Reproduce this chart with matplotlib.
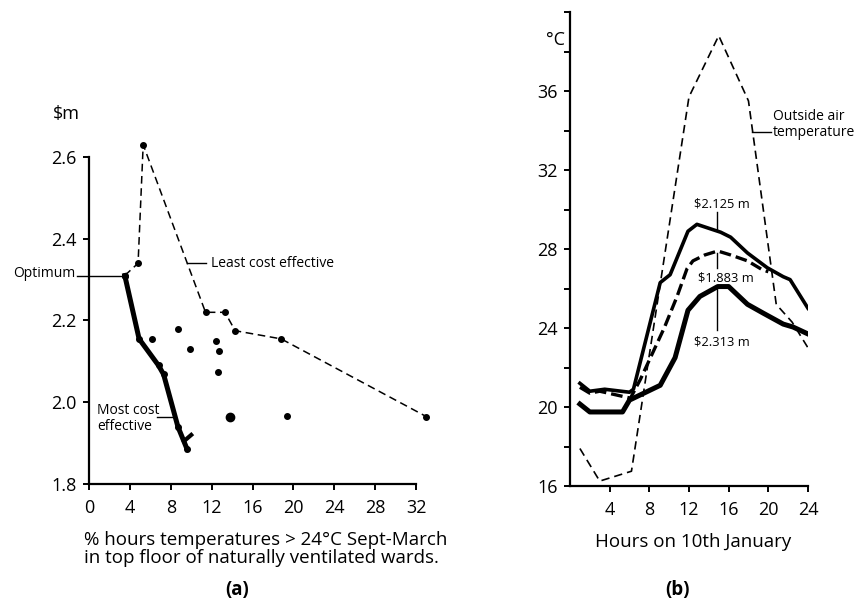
import numpy as np
import matplotlib.pyplot as plt
from matplotlib.ticker import FixedLocator

plt.rcParams['font.family'] = ['Open Sans', 'DejaVu Sans']

# panel (a): cost ($m) vs % hours above 24C
least_x = [3.5, 4.8, 5.3, 11.4, 13.3, 14.3, 18.8, 33.0]
least_y = [2.31, 2.34, 2.63, 2.22, 2.22, 2.175, 2.155, 1.965]
most_x = [3.5, 4.9, 6.8, 7.3, 8.7, 9.6]
most_y = [2.31, 2.155, 2.09, 2.068, 1.94, 1.885]
hook_x = [9.3, 10.0]
hook_y = [1.905, 1.92]
other_x = [6.2, 8.7, 9.9, 12.4, 12.7, 12.6, 19.4]
other_y = [2.155, 2.18, 2.13, 2.15, 2.125, 2.075, 1.966]
blob_x = [13.8]
blob_y = [1.963]

# panel (b): temperatures on 10th January
out_h = [1, 3, 6.2, 12, 15, 18, 20.8, 22.4, 24]
out_t = [17.9, 16.25, 16.75, 35.7, 38.8, 35.5, 25.2, 24.3, 23.0]
c2125_h = [1, 2, 3.5, 6, 6.4, 9.1, 10.1, 11.9, 12.8, 15.2, 16.2, 17.9, 19.9, 21.5, 22.2, 24]
c2125_t = [21.2, 20.8, 20.9, 20.75, 20.9, 26.3, 26.7, 28.9, 29.25, 28.85, 28.6, 27.8, 27.05, 26.6, 26.45, 25.0]
c1883_h = [1, 2, 3, 6.1, 7.1, 9.5, 10.8, 11.8, 12.4, 13.6, 14.9, 16.2, 17.9, 19.4, 20.0]
c1883_t = [21.0, 20.7, 20.8, 20.45, 21.4, 24.0, 25.6, 27.0, 27.4, 27.7, 27.9, 27.7, 27.4, 26.95, 26.85]
c2313_h = [1, 2, 5.3, 6, 9.1, 10.6, 11.9, 13.1, 14.9, 16.0, 17.9, 19.5, 21.5, 22.5, 24]
c2313_t = [20.15, 19.75, 19.75, 20.35, 21.1, 22.5, 24.9, 25.6, 26.1, 26.1, 25.2, 24.75, 24.2, 24.05, 23.7]

fig = plt.figure(figsize=(8.61, 6.01), dpi=100)
ax1 = fig.add_axes([0.1034, 0.1947, 0.3798, 0.5441])
ax2 = fig.add_axes([0.662, 0.1913, 0.2764, 0.7887])

for ax in (ax1, ax2):
    ax.spines['top'].set_visible(False)
    ax.spines['right'].set_visible(False)
    ax.spines['left'].set_linewidth(1.6)
    ax.spines['bottom'].set_linewidth(1.6)
    ax.tick_params(direction='out', length=4, width=1.4, labelsize=13, pad=5)
    ax.tick_params(which='minor', direction='out', length=4, width=1.4)
    ax.tick_params(axis='x', pad=7)

# ---- (a)
ax1.plot(least_x, least_y, color='k', lw=1.1, ls=(0, (5, 3)), marker='o', ms=4, clip_on=False)
ax1.plot(most_x, most_y, color='k', lw=3.6, marker='o', ms=4, clip_on=False)
ax1.plot(hook_x, hook_y, color='k', lw=3.0, clip_on=False)
ax1.plot(other_x, other_y, 'ko', ms=4, ls='none', clip_on=False)
ax1.plot(blob_x, blob_y, 'ko', ms=6, ls='none', clip_on=False)
ax1.set_xlim(0, 32)
ax1.set_ylim(1.8, 2.6)
ax1.set_xticks(np.arange(0, 33, 4))
ax1.set_yticks([1.8, 2.0, 2.2, 2.4, 2.6])
ax1.set_yticklabels(['1.8', '2.0', '2.2', '2.4', '2.6'])

ax1.plot([-1.2, 3.5], [2.31, 2.31], color='k', lw=1.0, clip_on=False)
ax1.text(-1.3, 2.315, 'Optimum', fontsize=10, ha='right', va='center')
ax1.plot([9.55, 11.4], [2.34, 2.34], color='k', lw=1.0)
ax1.text(11.9, 2.34, 'Least cost effective', fontsize=10, ha='left', va='center')
ax1.plot([6.7, 8.35], [1.965, 1.965], color='k', lw=1.0)
ax1.text(0.8, 1.96, 'Most cost\neffective', fontsize=10, ha='left', va='center', linespacing=1.1)
ax1.text(-0.112, 2.705, '$m', fontsize=13, ha='left', va='center', transform=ax1.get_yaxis_transform())

fig.text(84 / 861, 1 - 549 / 601, '% hours temperatures > 24°C Sept-March\nin top floor of naturally ventilated wards.',
         fontsize=13.5, ha='left', va='center', linespacing=1.05)
fig.text(237 / 861, 1 - 590 / 601, '(a)', fontsize=13.5, fontweight='bold', ha='center', va='center')

# ---- (b)
ax2.plot(out_h, out_t, color='k', lw=1.2, ls=(0, (5, 3)))
ax2.plot(c2125_h, c2125_t, color='k', lw=2.6)
ax2.plot(c1883_h, c1883_t, color='k', lw=2.4, ls=(0, (3.5, 1.5)))
ax2.plot(c2313_h, c2313_t, color='k', lw=3.6)
ax2.set_xlim(0, 24)
ax2.set_ylim(16, 40)
ax2.set_xticks([4, 8, 12, 16, 20, 24])
ax2.set_yticks([16, 20, 24, 28, 32, 36])
ax2.yaxis.set_minor_locator(FixedLocator([18, 22, 26, 30, 34, 38, 40]))

ax2.plot([14.8, 14.8], [29.85, 29.0], color='k', lw=1.0)
ax2.text(15.35, 30.3, '$2.125 m', fontsize=9.3, ha='center', va='center')
ax2.plot([14.8, 14.8], [27.8, 27.05], color='k', lw=1.0)
ax2.text(15.7, 26.55, '$1.883 m', fontsize=9.3, ha='center', va='center')
ax2.plot([14.8, 14.8], [26.0, 23.9], color='k', lw=1.0)
ax2.text(15.35, 23.3, '$2.313 m', fontsize=9.3, ha='center', va='center')
ax2.plot([18.35, 20.3], [33.9, 33.9], color='k', lw=1.0)
ax2.text(20.5, 34.3, 'Outside air\ntemperature', fontsize=10, ha='left', va='center', linespacing=1.1, clip_on=False)
ax2.text(-0.1, 38.6, '°C', fontsize=13, ha='left', va='center', transform=ax2.get_yaxis_transform())

fig.text(693 / 861, 1 - 542 / 601, 'Hours on 10th January', fontsize=13.5, ha='center', va='center')
fig.text(677 / 861, 1 - 590 / 601, '(b)', fontsize=13.5, fontweight='bold', ha='center', va='center')

fig.savefig('out.png', dpi=100)
